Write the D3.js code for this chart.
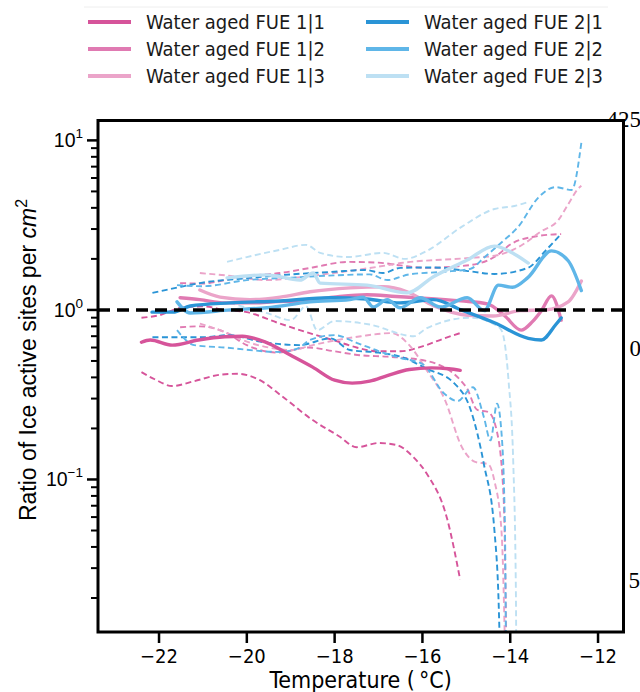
<!DOCTYPE html>
<html><head><meta charset="utf-8">
<script src="https://cdn.jsdelivr.net/npm/d3@7"></script>
<style>body{margin:0;background:#fff}</style>
</head><body>
<svg id="c" width="640" height="692"></svg>
<script>
// ---------- data: [temperature °C, ratio] ----------
const fue11Mean  = [[-22.4,0.645],[-22.2,0.665],[-21.7,0.62],[-21.1,0.665],[-20.5,0.695],[-20.1,0.70],[-19.6,0.65],[-19.0,0.54],[-18.5,0.46],[-18.0,0.385],[-17.6,0.37],[-17.2,0.38],[-16.8,0.41],[-16.3,0.445],[-15.8,0.455],[-15.4,0.45],[-15.14,0.44]];
const fue11Upper = [[-22.4,0.9],[-22.0,0.93],[-21.5,1.03],[-21.0,1.05],[-20.5,1.0],[-20.0,0.97],[-19.3,0.84],[-18.5,0.72],[-18.0,0.66],[-17.5,0.60],[-17.0,0.57],[-16.5,0.57],[-16.0,0.61],[-15.5,0.68],[-15.14,0.73]];
const fue11Lower = [[-22.4,0.43],[-22.1,0.39],[-21.7,0.356],[-21.2,0.38],[-20.6,0.415],[-20.2,0.42],[-19.7,0.385],[-19.2,0.31],[-18.5,0.224],[-17.9,0.18],[-17.5,0.155],[-17.0,0.164],[-16.6,0.16],[-16.2,0.135],[-15.9,0.108],[-15.44,0.059],[-15.14,0.0256]];

const fue12Mean  = [[-21.52,1.18],[-21.07,1.15],[-20.5,1.1],[-19.93,1.10],[-19.3,1.12],[-18.79,1.13],[-18.03,1.19],[-17.26,1.23],[-16.6,1.2],[-16.12,1.18],[-15.12,1.13],[-14.52,1.085],[-14.14,0.93],[-13.75,0.76],[-13.5,0.85],[-13.29,0.99],[-13.06,1.21],[-12.84,0.87]];
const fue12Upper = [[-21.52,1.44],[-21.0,1.43],[-20.5,1.5],[-20.0,1.58],[-19.24,1.65],[-18.5,1.78],[-17.7,1.92],[-17.0,1.9],[-16.5,1.83],[-15.9,1.77],[-15.3,1.8],[-14.75,1.87],[-14.3,2.1],[-13.98,2.45],[-13.36,2.73],[-12.84,2.8]];
const fue12Lower = [[-21.52,0.79],[-21.07,0.80],[-20.5,0.74],[-20.0,0.62],[-19.3,0.56],[-18.6,0.6],[-18.0,0.57],[-17.4,0.54],[-16.8,0.53],[-15.9,0.5],[-15.0,0.35],[-14.75,0.257],[-14.5,0.25],[-14.3,0.19],[-14.15,0.078],[-14.05,0.001]];

const fue13Mean  = [[-21.07,1.31],[-20.61,1.19],[-19.93,1.15],[-19.24,1.19],[-18.56,1.28],[-17.65,1.35],[-16.89,1.37],[-16.35,1.28],[-15.75,1.06],[-14.98,0.93],[-14.39,0.92],[-13.77,0.99],[-13.2,1.0],[-12.68,1.115],[-12.38,1.48]];
const fue13Upper = [[-21.07,1.65],[-20.5,1.6],[-19.54,1.5],[-18.9,1.55],[-18.03,1.65],[-17.0,1.8],[-16.5,1.89],[-15.0,2.02],[-14.3,2.1],[-13.75,2.4],[-13.3,2.9],[-12.9,3.4],[-12.68,4.2],[-12.45,5.2],[-12.38,5.4]];
const fue13Lower = [[-21.07,0.83],[-20.5,0.74],[-20.0,0.65],[-19.5,0.6],[-19.0,0.58],[-18.5,0.62],[-18.0,0.66],[-17.4,0.7],[-16.7,0.73],[-16.3,0.62],[-15.9,0.44],[-15.5,0.3],[-15.1,0.155],[-14.8,0.127],[-14.5,0.123],[-14.36,0.098],[-14.2,0.05],[-14.05,0.001]];

const fue21Mean  = [[-22.16,0.97],[-21.68,0.97],[-21.29,1.055],[-20.38,1.10],[-19.24,1.13],[-18.1,1.18],[-17.26,1.16],[-16.51,1.10],[-15.75,1.15],[-15.12,1.0],[-14.36,0.84],[-13.59,0.68],[-13.29,0.665],[-12.97,0.815],[-12.84,0.897]];
const fue21Upper = [[-22.15,1.26],[-21.5,1.37],[-21.07,1.44],[-20.0,1.54],[-19.0,1.62],[-18.0,1.68],[-17.3,1.72],[-16.9,1.65],[-16.5,1.77],[-15.75,1.78],[-15.0,1.7],[-14.36,1.63],[-13.6,1.77],[-13.2,2.23],[-12.84,2.81]];
const fue21Lower = [[-22.15,0.69],[-21.0,0.69],[-20.4,0.71],[-19.7,0.65],[-18.8,0.62],[-18.1,0.68],[-17.65,0.58],[-17.0,0.56],[-16.5,0.53],[-15.9,0.45],[-15.28,0.37],[-14.9,0.257],[-14.6,0.123],[-14.36,0.05],[-14.25,0.014],[-14.22,0.001]];

const fue22Mean  = [[-21.59,1.115],[-21.29,0.96],[-20.38,1.0],[-19.54,1.03],[-18.56,1.115],[-17.65,1.15],[-17.35,1.19],[-17.12,1.04],[-16.8,1.15],[-16.51,1.03],[-16.05,1.18],[-15.59,1.04],[-14.98,1.18],[-14.59,0.99],[-14.27,1.40],[-13.95,1.36],[-13.6,1.55],[-13.06,2.23],[-12.68,1.95],[-12.38,1.30]];
const fue22Upper = [[-21.59,1.40],[-21.0,1.38],[-20.0,1.5],[-19.0,1.55],[-18.0,1.6],[-17.2,1.62],[-16.8,1.5],[-16.3,1.62],[-15.5,1.68],[-14.9,1.75],[-14.6,2.03],[-14.2,2.5],[-13.82,3.09],[-13.36,4.6],[-12.97,5.3],[-12.6,5.1],[-12.38,9.7]];
const fue22Lower = [[-21.59,0.76],[-21.2,0.62],[-20.5,0.6],[-19.24,0.565],[-18.8,0.6],[-18.56,0.665],[-18.0,0.71],[-17.5,0.64],[-16.9,0.56],[-16.5,0.52],[-16.0,0.48],[-15.5,0.32],[-15.2,0.29],[-14.85,0.35],[-14.6,0.233],[-14.45,0.17],[-14.3,0.28],[-14.2,0.19],[-14.12,0.05],[-14.08,0.001]];

const fue23Mean  = [[-20.45,1.545],[-19.54,1.61],[-18.79,1.50],[-18.49,1.65],[-18.33,1.44],[-17.26,1.40],[-16.35,1.26],[-15.75,1.57],[-14.98,1.97],[-14.36,2.38],[-13.91,2.14],[-13.59,1.89]];
const fue23Upper = [[-20.45,1.92],[-20.0,2.05],[-19.25,2.26],[-18.65,2.42],[-18.33,2.17],[-17.7,2.05],[-16.9,2.17],[-16.4,2.0],[-15.9,2.23],[-15.1,3.1],[-14.36,3.94],[-13.9,4.1],[-13.59,4.33]];
const fue23Lower = [[-20.4,1.1],[-19.5,0.95],[-19.0,0.87],[-18.65,1.05],[-18.4,0.76],[-18.0,0.86],[-17.2,0.82],[-16.2,0.7],[-15.9,0.78],[-14.9,0.9],[-14.36,0.82],[-14.2,0.76],[-14.04,0.386],[-13.93,0.123],[-13.87,0.02],[-13.85,0.001]];

const seriesNames = ["Water aged FUE 1|1","Water aged FUE 1|2","Water aged FUE 1|3","Water aged FUE 2|1","Water aged FUE 2|2","Water aged FUE 2|3"];
const seriesColors = ["#d6549a","#e07ab2","#eba4c9","#2a94d6","#5fb6e8","#bde0f3"];
const xTicks = [-22,-20,-18,-16,-14,-12];
const yMajor = [0.1,1,10];
const yMajorExp = ["−1","0","1"];
const rightLabels = ["425","0","5"];

const series = [
  {mean:fue11Mean,upper:fue11Upper,lower:fue11Lower},
  {mean:fue12Mean,upper:fue12Upper,lower:fue12Lower},
  {mean:fue13Mean,upper:fue13Upper,lower:fue13Lower},
  {mean:fue21Mean,upper:fue21Upper,lower:fue21Lower},
  {mean:fue22Mean,upper:fue22Upper,lower:fue22Lower},
  {mean:fue23Mean,upper:fue23Upper,lower:fue23Lower}
];

// ---------- layout ----------
const L=98, R=623.5, T=120.5, B=632;
const svg=d3.select("#c");
const x=d3.scaleLinear().domain([-23.39,-11.42]).range([L,R]);
const y=d3.scaleLog().domain([0.0126,13.1]).range([B,T]);

// stray serif labels behind the axes
const rl=svg.append("g").attr("font-family","Liberation Serif, serif").attr("font-size",23).attr("fill","#000").attr("text-anchor","end");
rl.append("text").attr("x",641).attr("y",127).text(rightLabels[0]);
rl.append("text").attr("x",641).attr("y",356).text(rightLabels[1]);
rl.append("text").attr("x",640).attr("y",588).text(rightLabels[2]);

// plot background
svg.append("rect").attr("x",L).attr("y",T).attr("width",R-L).attr("height",B-T).attr("fill","#fff");
svg.append("clipPath").attr("id","clip").append("rect").attr("x",L).attr("y",T).attr("width",R-L).attr("height",B-T);

const line=d3.line().x(d=>x(d[0])).y(d=>y(d[1])).curve(d3.curveMonotoneX);
const gData=svg.append("g").attr("clip-path","url(#clip)");
series.forEach((s,i)=>{
  [s.upper,s.lower].forEach(arr=>{
    gData.append("path").attr("d",line(arr)).attr("fill","none").attr("stroke",seriesColors[i])
      .attr("stroke-width",1.9).attr("stroke-dasharray","6,3.5");
  });
});
series.forEach((s,i)=>{
  gData.append("path").attr("d",line(s.mean)).attr("fill","none").attr("stroke",seriesColors[i])
    .attr("stroke-width",3.4).attr("stroke-linecap","round");
});
// reference line at ratio 1
gData.append("line").attr("x1",L).attr("x2",R).attr("y1",y(1)).attr("y2",y(1))
  .attr("stroke","#000").attr("stroke-width",3.6).attr("stroke-dasharray","12,7");

// frame
svg.append("rect").attr("x",L).attr("y",T).attr("width",R-L).attr("height",B-T)
  .attr("fill","none").attr("stroke","#000").attr("stroke-width",3);

// y axis ticks
const yMinor=[];
[0.01,0.1,1].forEach(dec=>{for(let k=2;k<=9;k++){const v=dec*k; if(v>=0.0126&&v<=13.1) yMinor.push(v);}});
const gy=svg.append("g");
yMinor.forEach(v=>gy.append("line").attr("x1",L-7).attr("x2",L).attr("y1",y(v)).attr("y2",y(v)).attr("stroke","#000").attr("stroke-width",2));
yMajor.forEach((v,i)=>{
  gy.append("line").attr("x1",L-11).attr("x2",L).attr("y1",y(v)).attr("y2",y(v)).attr("stroke","#000").attr("stroke-width",2.5);
  const t=gy.append("text").attr("x",L-15).attr("y",y(v)+7).attr("text-anchor","end")
    .attr("font-family","Liberation Sans, Arial, sans-serif").attr("font-size",19.5).attr("fill","#000");
  t.append("tspan").text("10");
  t.append("tspan").attr("dy",-9).attr("font-size",13.5).text(yMajorExp[i]);
});

// x axis ticks
const gx=svg.append("g");
xTicks.forEach(v=>{
  gx.append("line").attr("x1",x(v)).attr("x2",x(v)).attr("y1",B).attr("y2",B+11).attr("stroke","#000").attr("stroke-width",2.5);
  gx.append("text").attr("x",x(v)).attr("y",B+31).attr("text-anchor","middle")
    .attr("font-family","DejaVu Sans Condensed, DejaVu Sans, sans-serif").attr("font-stretch","condensed")
    .attr("font-size",20).attr("fill","#000").text(d3.format("")(v).replace("-","−"));
});

// axis labels
svg.append("text").attr("x",(L+R)/2).attr("y",688).attr("text-anchor","middle")
  .attr("font-family","DejaVu Sans Condensed, DejaVu Sans, sans-serif").attr("font-stretch","condensed")
  .attr("font-size",23).attr("fill","#000").text("Temperature (\u2009°C)");
const yl=svg.append("text").attr("transform","translate(36,360) rotate(-90)").attr("text-anchor","middle")
  .attr("font-family","Liberation Sans, Arial, sans-serif").attr("font-size",23).attr("fill","#000");
yl.append("tspan").text("Ratio of Ice active sites per ");
yl.append("tspan").attr("font-style","italic").text("cm");
yl.append("tspan").attr("dy",-9).attr("font-size",16).text("2");

// legend
svg.append("line").attr("x1",84).attr("x2",608).attr("y1",7).attr("y2",7).attr("stroke","#eeeeee").attr("stroke-width",1);
const lg=svg.append("g");
seriesNames.forEach((n,i)=>{
  const col=Math.floor(i/3), row=i%3;
  const lx=col?366:88, ty=22+row*27;
  lg.append("line").attr("x1",lx).attr("x2",lx+43).attr("y1",ty).attr("y2",ty).attr("stroke",seriesColors[i]).attr("stroke-width",4);
  lg.append("text").attr("x",lx+58).attr("y",ty+7).attr("font-family","DejaVu Sans Condensed, DejaVu Sans, sans-serif")
    .attr("font-stretch","condensed").attr("font-size",20).attr("fill","#1a1a1a").text(n);
});
</script>
</body></html>
